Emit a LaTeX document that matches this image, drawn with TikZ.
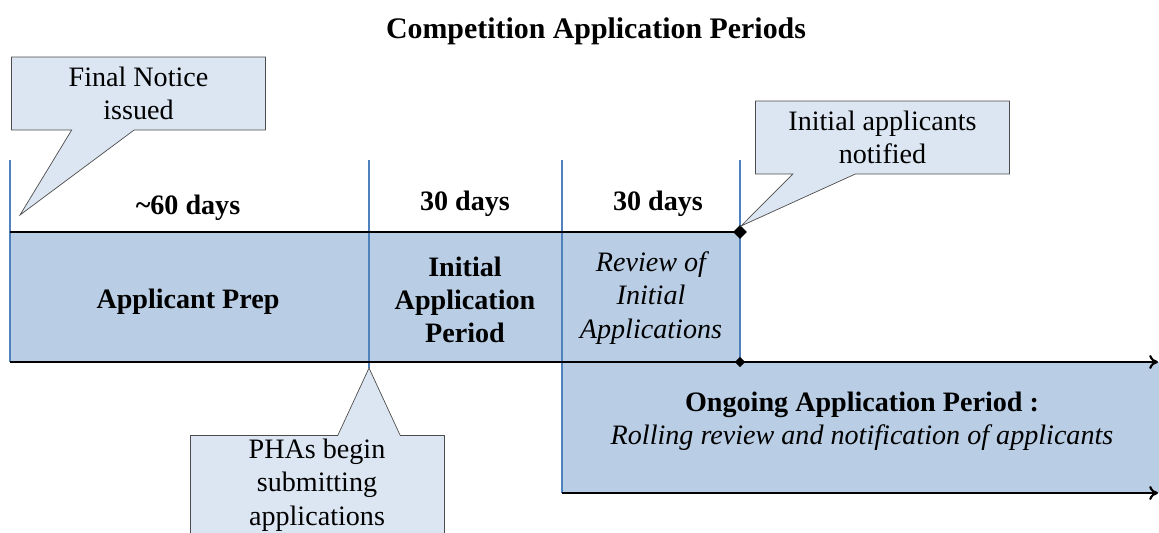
\documentclass[tikz,border=0pt]{standalone}
\usepackage{fontspec}
\setmainfont{Liberation Serif}
\usetikzlibrary{shapes.callouts,shapes.geometric,arrows.meta}
\definecolor{bandblue}{HTML}{B9CDE5}
\definecolor{noteblue}{HTML}{DCE6F2}
\definecolor{tickblue}{HTML}{4F81BD}
\tikzstyle{phase}=[font=\fontsize{16}{19}\selectfont\bfseries, align=center]
\tikzstyle{review}=[font=\fontsize{16}{19}\selectfont\itshape, align=center]
\tikzstyle{days}=[font=\fontsize{16}{19}\selectfont\bfseries]
\tikzstyle{notebox}=[fill=noteblue, draw=black!70, thin, font=\fontsize{16}{19}\selectfont, align=center, minimum width=5.08cm, minimum height=1.46cm, inner sep=2pt]
\tikzstyle{note}=[notebox, rectangle callout, callout pointer width=1.25cm]
\tikzstyle{tick}=[tickblue, line width=1.3pt]
\tikzstyle{marker}=[diamond, fill=black, inner sep=0pt, minimum size=8pt]
\tikzstyle{timeline}=[black, line width=1.2pt]

\begin{document}
\begin{tikzpicture}[x=0.02cm, y=-0.02cm]

\clip (0,0) rectangle (1159,533);

%ticks
    \foreach \xpos/\tk in {10/a, 369/b, 562/c, 740/d}{
        \coordinate (top-\tk) at (\xpos,160);
        \coordinate (up-\tk) at (\xpos,232);
        \coordinate (low-\tk) at (\xpos,362);
    }
    \coordinate (bot-c) at (562,493);
    \coordinate (low-end) at (1158,362);
    \coordinate (bot-end) at (1158,493);
    \coordinate (tip-b) at (369,368);

%bands
\fill[bandblue] (up-a) -- (up-d) {[rounded corners=0.16cm] -- (low-d) -- (low-c)} -- (low-a) -- cycle;
\fill[bandblue] (low-c) rectangle (1159,493);

  \foreach \tk in {a, b, d}
          \draw[tick] (top-\tk) -- (low-\tk);
  \draw[tick] (low-b) -- (tip-b);
  \draw[tick] (top-c) -- (bot-c);

  \draw[timeline] (up-a) -- (up-d);
  \draw[timeline, -{To[length=5pt,width=8pt]}] (low-a) -- (low-end);
  \draw[timeline, -{To[length=5pt,width=8pt]}] (bot-c) -- (bot-end);

\node[marker] (notify) at (up-d) {};
\node[marker, minimum size=6pt] (reviewend) at (low-d) {};

%title and durations
\node[font=\fontsize{17}{20}\selectfont\bfseries] (title) at (596,31) {Competition Application Periods};

\node[days] (prepdays) at (188,208) {\textasciitilde 60 days};
\node[days] (initialdays) at (465,204) {30 days};
\node[days] (reviewdays) at (658,204) {30 days};

\node[phase] (prep) at (188,302) {Applicant Prep};
\node[phase] (initial) at (465,300) {Initial\\Application\\Period};
\node[review] (reviewing) at (651,298) {Review of\\Initial\\Applications};
\node[align=center, font=\fontsize{16}{19}\selectfont] (ongoing) at (862,421) {\textbf{Ongoing Application Period :}\\\textit{Rolling review and notification of applicants}};

%callouts
\coordinate (tip-notice) at (20,215);
\coordinate (tip-notified) at (741,226);
\node[note, callout absolute pointer={(tip-notice)}] (notice) at (138.5,93.5) {Final Notice\\issued};
\node[note, callout absolute pointer={(tip-notified)}] (notified) at (882.5,137.5) {Initial applicants\\notified};

\node[notebox, minimum height=2.2cm, anchor=north] (submit) at (317,435) {PHAs begin\\submitting\\applications\\[-3pt]};
\coordinate (base-l) at (338,435);
\coordinate (base-r) at (400,435);
\fill[noteblue] ([yshift=-0.6pt]base-l) -- (tip-b) -- ([yshift=-0.6pt]base-r) -- cycle;
\draw[black!70, thin] (base-l) -- (tip-b) -- (base-r);

   \end{tikzpicture}
\end{document}
